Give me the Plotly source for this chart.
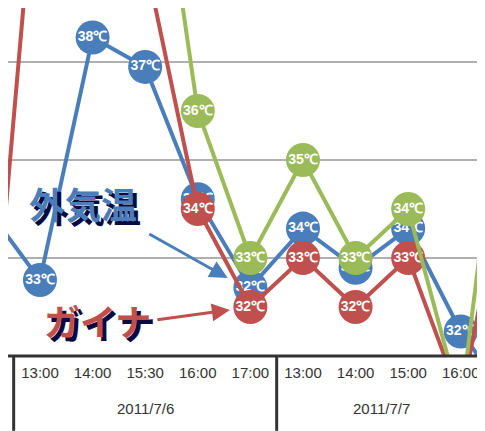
import plotly.graph_objects as go

times = ["12:00", "13:00", "14:00", "15:30", "16:00", "17:00", "13:00", "14:00", "15:00", "16:00", "17:00"]
dates = ["2011/7/6", "2011/7/7"]
outside = [34.0, 32.55, 37.5, 36.9, 34.2, 32.4, 33.6, 32.8, 33.6, 31.5, 30.0]
gaina = [29.7, 42.0, 41.0, 39.1, 34.0, 32.0, 33.0, 32.0, 33.0, 30.1, 35.5]
other = [44.0, 44.0, 44.0, 43.4, 36.0, 33.0, 35.0, 33.0, 34.0, 30.0, 38.6]

blue, red, green = "#4a7ebb", "#c0504d", "#9bbb59"
xs = list(range(len(times)))
fig = go.Figure()
for vals, col in [(outside, blue), (gaina, red), (other, green)]:
    fig.add_trace(go.Scatter(
        x=xs, y=vals, mode="lines+markers+text", cliponaxis=True,
        line=dict(color=col, width=4),
        marker=dict(size=34, color=col),
        text=[f"<b>{round(v)}℃</b>" for v in vals], textposition="middle center",
        textfont=dict(color="white", size=14, family="Liberation Sans"),
        hoverinfo="skip", showlegend=False))

x0 = 0.392
x1 = x0 + 485 / 52.6
fig.update_xaxes(range=[x0, x1], tickvals=xs, ticktext=times, showgrid=False,
                 zeroline=False, showline=False, ticks="", ticklabelstandoff=6,
                 tickfont=dict(size=15, color="#333", family="Liberation Sans"))
fig.update_yaxes(range=[31, 31 + 348 / 49], tick0=31, dtick=2, showgrid=True,
                 gridcolor="#b0b0b0", gridwidth=2, showticklabels=False, zeroline=False)

shapes = [dict(type="line", xref="paper", yref="paper", x0=0, x1=1, y0=0, y1=0,
               line=dict(color="#333", width=3))]
for d in [0.5, 5.5, 9.5]:
    shapes.append(dict(type="line", xref="x", yref="paper", x0=d, x1=d, y0=0, y1=-0.215,
                       line=dict(color="#333", width=3)))
ann = [dict(x=3, y=-0.18, xref="x", yref="paper", text=dates[0], showarrow=False,
            font=dict(size=15, color="#333", family="Liberation Sans")),
       dict(x=7.5, y=-0.18, xref="x", yref="paper", text=dates[1], showarrow=False,
            font=dict(size=15, color="#333", family="Liberation Sans"))]
for txt, xx, yy, col in [("外気温", 1.82, 34.12, blue), ("ガイナ", 2.10, 31.73, red)]:
    ann.append(dict(x=xx, y=yy, text=f"<b>{txt}</b>", showarrow=False, xshift=4, yshift=-4,
                    font=dict(size=36, color="#0a0a40", family="Noto Sans CJK JP")))
    ann.append(dict(x=xx, y=yy, text=f"<b>{txt}</b>", showarrow=False,
                    font=dict(size=36, color=col, family="Noto Sans CJK JP")))
ann.append(dict(x=4.57, y=32.59, ax=-80, ay=-45, showarrow=True, arrowhead=2,
                arrowsize=1.2, arrowwidth=3, arrowcolor=blue, text=""))
ann.append(dict(x=4.61, y=31.94, ax=-74, ay=10, showarrow=True, arrowhead=2,
                arrowsize=1.2, arrowwidth=3, arrowcolor=red, text=""))

fig.update_layout(width=485, height=431, margin=dict(l=0, r=0, t=0, b=83),
                  plot_bgcolor="white", paper_bgcolor="white",
                  shapes=shapes, annotations=ann)
fig.write_html("out.html")
